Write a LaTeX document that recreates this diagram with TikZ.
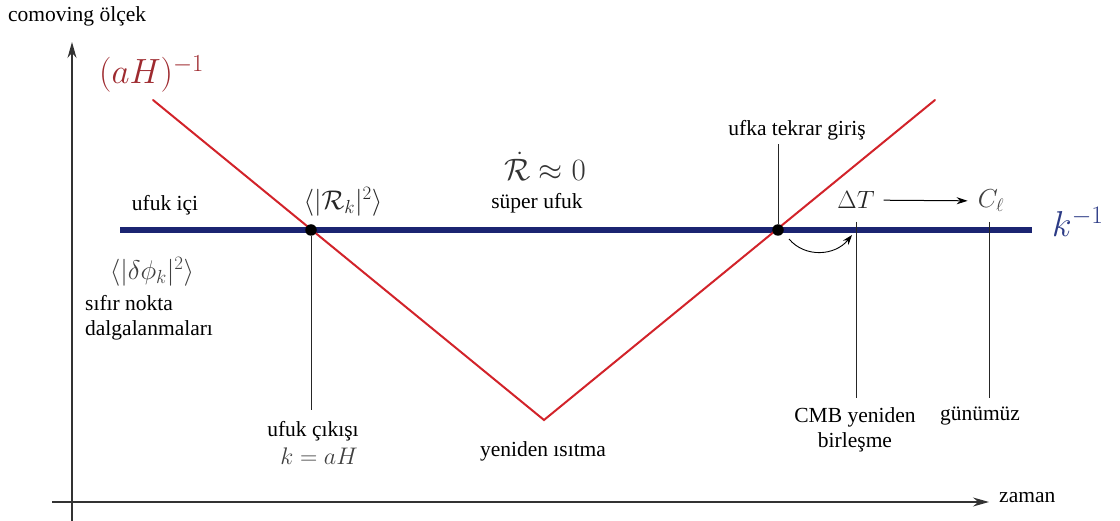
\RequirePackage{fix-cm}
\documentclass[tikz,border=0pt]{standalone}
\usepackage{fontspec}
\setmainfont{Liberation Serif}
\usetikzlibrary{arrows.meta}
\definecolor{redline}{HTML}{D2232A}
\definecolor{redtext}{HTML}{9E2A2F}
\definecolor{navy}{HTML}{1B2471}
\definecolor{bluetext}{HTML}{2B3A85}
\definecolor{axisgray}{HTML}{333333}
\begin{document}
\begin{tikzpicture}[x=1pt,y=-1pt,
  lbl/.style={font=\fontsize{21.5}{25}\selectfont, inner sep=0pt, align=center},
  mlbl/.style={font=\fontsize{27}{29}\selectfont, inner sep=0pt, text=black!75},
  axis/.style={line width=1.3pt, draw=axisgray, -{Stealth[length=16pt,width=9pt]}},
  tick/.style={line width=0.9pt, draw=black!85},
  dot/.style={circle, fill=black, inner sep=0pt, minimum size=11.5pt}]
\useasboundingbox (0,0) rectangle (1120,521);
% axes
\coordinate (ybot) at (72,521);
\coordinate (ytop) at (72,42);
\coordinate (xleft) at (52,502);
\coordinate (xright) at (989,502);
\draw[axis] (ybot) -- (ytop);
\draw[axis] (xleft) -- (xright);
\node[lbl, anchor=west] (ylab) at (8,16) {comoving ölçek};
\node[lbl, anchor=west] (xlab) at (999,498) {zaman};
% k^{-1} line
\coordinate (bl) at (120,230);
\coordinate (br) at (1032,230);
\draw[navy, line width=5.5pt] (bl) -- (br);
\node[anchor=west, inner sep=0pt, text=bluetext, font=\fontsize{36}{38}\selectfont] (klab) at (1052,222) {$k^{-1}$};
% red (aH)^{-1}
\coordinate (r1) at (153,100);
\coordinate (rmin) at (544,420);
\coordinate (r2) at (935,100);
\draw[redline, line width=2pt, line cap=round] (r1) -- (rmin) -- (r2);
\node[anchor=base west, inner sep=0pt, text=redtext, font=\fontsize{35}{37}\selectfont] (aH) at (99,84) {$(aH)^{-1}$};
% crossing points
\node[dot] (exit) at (311,230) {};
\node[dot] (reentry) at (778,230) {};
% labels
\node[lbl] (inside) at (165,205) {ufuk içi};
\node[mlbl, text=black!85] (Rk) at (343,202) {$\langle|\mathcal{R}_k|^2\rangle$};
\node[mlbl] (dphi) at (152,272) {$\langle|\delta\phi_k|^2\rangle$};
\node[lbl, anchor=north west, align=left] (zero) at (85,295) {sıfır nokta\\dalgalanmaları};
\node[inner sep=0pt, font=\fontsize{31}{33}\selectfont, text=black!80] (Rdot) at (545,166) {$\dot{\mathcal{R}}\approx 0$};
\node[lbl] (super) at (537,203) {süper ufuk};
\node[lbl] (reentrylbl) at (797,130) {ufka tekrar giriş};
\node[mlbl, font=\fontsize{25}{27}\selectfont, text=black!85] (dT) at (856,200) {$\Delta T$};
\node[mlbl, font=\fontsize{26}{28}\selectfont] (Cl) at (991,201) {$C_\ell$};
\node[lbl, anchor=north] (exitlbl) at (313,421) {ufuk çıkışı};
\node[mlbl, font=\fontsize{24}{26}\selectfont, anchor=north] (exitmath) at (319,448) {$k=aH$};
\node[lbl] (reheat) at (543,451) {yeniden ısıtma};
\node[lbl, anchor=north] (cmb) at (855,407) {CMB yeniden\\birleşme};
\node[lbl, anchor=north] (today) at (980,407) {günümüz};
% connectors
\draw[tick] (exit) -- ([yshift=11pt]exit |- exitlbl.north);
\draw[tick] (reentry) -- ([yshift=-4pt]reentry |- reentrylbl.south);
\coordinate (dTtop) at (856,222);
\coordinate (Cltop) at (989,222);
\draw[tick] (dTtop) -- ([yshift=9pt]dTtop |- cmb.north);
\draw[tick] (Cltop) -- ([yshift=9pt]Cltop |- today.north);
\draw[line width=1pt, -{Stealth[length=11pt,width=7pt]}, shorten <=9pt, shorten >=10pt] (dT) -- (Cl);
\coordinate (cs) at (789,239);
\coordinate (ce) at (852,235);
\draw[line width=0.9pt, -{Stealth[length=10pt,width=7pt]}] (cs) .. controls (805,258) and (835,256) .. (ce);
\end{tikzpicture}
\end{document}
